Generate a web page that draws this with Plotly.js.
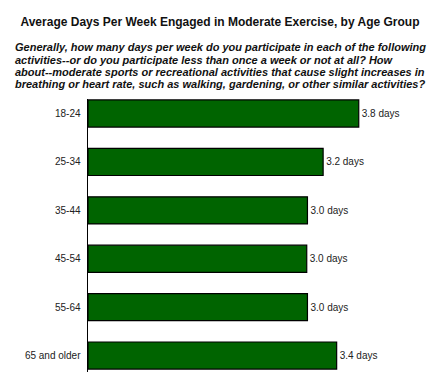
<!DOCTYPE html>
<html>
<head>
<meta charset="utf-8">
<script src="https://cdn.plot.ly/plotly-3.0.1.min.js"></script>
<style>html,body{margin:0;padding:0;background:#fff;}#chart{width:440px;height:385px;}</style>
</head>
<body>
<div id="chart"></div>
<script>
const ageGroups = ["18-24", "25-34", "35-44", "45-54", "55-64", "65 and older"];
const avgDays = [3.8, 3.3, 3.08, 3.07, 3.08, 3.49];
const dayLabels = ["3.8 days", "3.2 days", "3.0 days", "3.0 days", "3.0 days", "3.4 days"];
const chartTitle = "Average Days Per Week Engaged in Moderate Exercise, by Age Group";
const questionLines = [
  "Generally, how many days per week do you participate in each of the following",
  "activities--or do you participate less than once a week or not at all? How",
  "about--moderate sports or recreational activities that cause slight increases in",
  "breathing or heart rate, such as walking, gardening, or other similar activities?"
];

const FONT = "Liberation Sans, Arial, sans-serif";
const margin = {l: 88, r: 10, t: 99, b: 13};
const plotH = 385 - margin.t - margin.b;
const plotW = 440 - margin.l - margin.r;
const lineY = [47, 59.5, 72, 84.5];

const trace = {
  type: "bar",
  orientation: "h",
  y: ageGroups,
  x: avgDays,
  text: dayLabels,
  textposition: "outside",
  cliponaxis: false,
  textfont: {family: FONT, size: 10, color: "#222"},
  marker: {color: "#006400", line: {color: "#000", width: 1.2}},
  hoverinfo: "none"
};

const annotations = questionLines.map((t, i) => ({
  text: "<b><i>" + t + "</i></b>",
  xref: "paper", yref: "paper",
  x: (13 - margin.l) / plotW,
  y: 1 + (margin.t - lineY[i]) / plotH,
  xanchor: "left", yanchor: "middle",
  align: "left", showarrow: false,
  font: {family: FONT, size: 11, color: "#111"}
}));

const layout = {
  width: 440, height: 385,
  margin: margin,
  paper_bgcolor: "#fff", plot_bgcolor: "#fff",
  showlegend: false,
  bargap: 0.44,
  font: {family: FONT, color: "#222"},
  title: {
    text: "<b>" + chartTitle + "</b>",
    font: {family: FONT, size: 12, color: "#111"},
    x: 0.5, xanchor: "center", xref: "container",
    y: 0.943, yanchor: "middle", yref: "container"
  },
  annotations: annotations,
  xaxis: {
    range: [0, 4.8], visible: false, showgrid: false, zeroline: false, fixedrange: true
  },
  yaxis: {
    range: [5.34, -0.3], showgrid: false, zeroline: false,
    showline: true, linecolor: "#000", linewidth: 1.5,
    ticks: "", ticklen: 0,
    tickfont: {family: FONT, size: 10, color: "#222"},
    ticklabelstandoff: 4
  }
};

Plotly.newPlot("chart", [trace], layout, {displayModeBar: false, staticPlot: true});
</script>
</body>
</html>
